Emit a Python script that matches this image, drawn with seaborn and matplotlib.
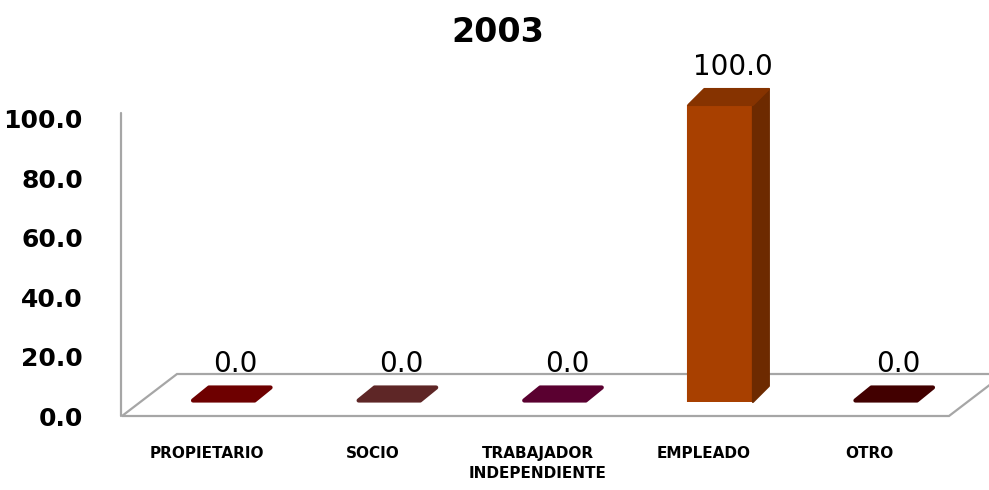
import numpy as np
import pandas as pd
import matplotlib
matplotlib.use("Agg")
import matplotlib.pyplot as plt
import seaborn as sns
from matplotlib.patches import Polygon
from matplotlib.lines import Line2D
from matplotlib.transforms import IdentityTransform
import matplotlib.colors as mc

# ---- data ----
categories = ["PROPIETARIO", "SOCIO", "TRABAJADOR\nINDEPENDIENTE", "EMPLEADO", "OTRO"]
values = [0.0, 0.0, 0.0, 100.0, 0.0]
bar_colors = ["#6E0000", "#5E2626", "#5A0030", "#A84000", "#420000"]
y_ticks = [0, 20, 40, 60, 80, 100]
title = "2003"

sns.set_theme(style="white")
plt.rcParams["font.family"] = ["DejaVu Sans"]

W, H = 989, 490
fig = plt.figure(figsize=(W / 100, H / 100), dpi=100)
fig.patch.set_facecolor("white")
ax = fig.add_axes([141 / W, 88 / H, 828 / W, 297 / H])

df = pd.DataFrame({"cat": categories, "val": values})
sns.barplot(data=df, x="cat", y="val", hue="cat", palette=bar_colors,
            legend=False, width=0.39, saturation=1, ax=ax, zorder=3,
            linewidth=0)
ax.set_xlim(-0.5, 4.5)
ax.set_ylim(0, 100)
ax.set(xticks=[], yticks=[], xlabel="", ylabel="")
for s in ax.spines.values():
    s.set_visible(False)
ax.patch.set_alpha(0)

def darken(c, f):
    r, g, b = mc.to_rgb(c)
    return (r * f, g * f, b * f)

# ---- 3D floor (decoration) ----
to_disp = ax.transData.transform
ox, oy = ax.transAxes.transform((0, 0))
front_y = oy - 14
back_y = oy + 28
floor = Polygon([(ox - 19, front_y), (ox + 808, front_y),
                 (ox + 863, back_y), (ox + 36, back_y)],
                closed=True, facecolor="white", edgecolor="#A6A6A6", lw=1.6,
                transform=IdentityTransform(), clip_on=False, zorder=1)
ax.add_artist(floor)
wall = Line2D([ox - 20, ox - 20], [front_y, oy + 289], color="#A6A6A6", lw=1.6,
              transform=IdentityTransform(), clip_on=False, zorder=1)
ax.add_artist(wall)

# ---- 3D extrusion of bars ----
dx, dy = 16, 16
for patch, col in zip(ax.patches, bar_colors):
    x0, y0 = to_disp((patch.get_x(), patch.get_y()))
    x1, y1 = to_disp((patch.get_x() + patch.get_width(), patch.get_y() + patch.get_height()))
    if patch.get_height() > 0:
        patch.set_edgecolor(col)
        patch.set_linewidth(1.5)
        patch.set_joinstyle("round")
        side = Polygon([(x1, y0), (x1 + dx, y0 + dy), (x1 + dx, y1 + dy), (x1, y1)],
                       facecolor=darken(col, 0.65), edgecolor=darken(col, 0.65),
                       lw=1.5, joinstyle="round",
                       transform=IdentityTransform(), clip_on=False, zorder=4)
        top = Polygon([(x0, y1), (x1, y1), (x1 + dx, y1 + dy), (x0 + dx, y1 + dy)],
                      facecolor=darken(col, 0.8), edgecolor=darken(col, 0.8),
                      lw=1.5, joinstyle="round",
                      transform=IdentityTransform(), clip_on=False, zorder=4)
        ax.add_artist(side)
        ax.add_artist(top)
    else:
        top = Polygon([(x0 + 1.5, y1 + 1.5), (x1 - 1.5, y1 + 1.5),
                       (x1 + dx - 1.5, y1 + dy - 1.5), (x0 + dx + 1.5, y1 + dy - 1.5)],
                      facecolor=col, edgecolor=col, lw=3.0, joinstyle="round",
                      transform=IdentityTransform(), clip_on=False, zorder=4)
        ax.add_artist(top)

# ---- value labels ----
for i, v in enumerate(values):
    ax.annotate(f"{v:.1f}", xy=(i, v), xytext=(12, 30), textcoords="offset pixels",
                ha="center", va="baseline", fontsize=20, color="black",
                annotation_clip=False, zorder=6)

# ---- y tick labels ----
for t in y_ticks:
    ax.annotate(f"{t:.1f}", xy=(0, t), xycoords=("axes fraction", "data"),
                xytext=(-58, -14), textcoords="offset pixels",
                ha="right", va="center_baseline", fontsize=18, fontweight="bold",
                color="black", annotation_clip=False)

# ---- category labels ----
for i, c in enumerate(categories):
    ax.annotate(c, xy=(i, 0), xytext=(-17, -44), textcoords="offset pixels",
                ha="center", va="top", fontsize=11, fontweight="bold",
                multialignment="center", linespacing=1.4, color="black",
                annotation_clip=False)

fig.text(498 / W, 1 - 29 / H, title, ha="center", va="center_baseline",
         fontsize=24, fontweight="bold", color="black")

fig.savefig("out.png", dpi=100, facecolor="white")
